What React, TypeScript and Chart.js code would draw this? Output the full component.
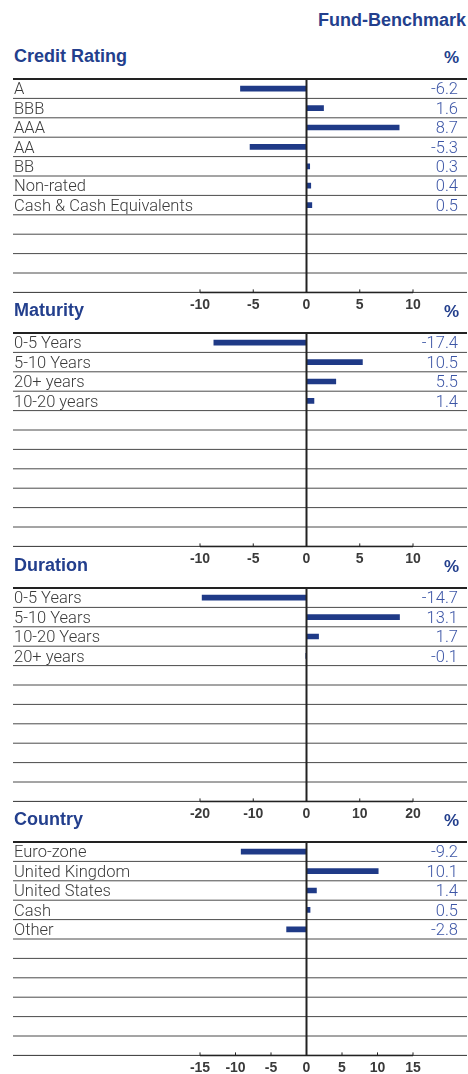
import React, { useEffect, useRef } from "react";
import { Chart, registerables } from "chart.js";

Chart.register(...registerables);

// ---------- data ----------
const headerLabel = "Fund-Benchmark";
const unitLabel = "%";

const creditTitle = "Credit Rating";
const creditCategories = ["A", "BBB", "AAA", "AA", "BB", "Non-rated", "Cash & Cash Equivalents"];
const creditValues = [-6.2, 1.6, 8.7, -5.3, 0.3, 0.4, 0.5];
const creditTickLabels = ["-10", "-5", "0", "5", "10"];

const maturityTitle = "Maturity";
const maturityCategories = ["0-5 Years", "5-10 Years", "20+ years", "10-20 years"];
const maturityValues = [-17.4, 10.5, 5.5, 1.4];
const maturityTickLabels = ["-10", "-5", "0", "5", "10"];

const durationTitle = "Duration";
const durationCategories = ["0-5 Years", "5-10 Years", "10-20 Years", "20+ years"];
const durationValues = [-14.7, 13.1, 1.7, -0.1];
const durationTickLabels = ["-20", "-10", "0", "10", "20"];

const countryTitle = "Country";
const countryCategories = ["Euro-zone", "United Kingdom", "United States", "Cash", "Other"];
const countryValues = [-9.2, 10.1, 1.4, 0.5, -2.8];
const countryTickLabels = ["-15", "-10", "-5", "0", "5", "10", "15"];

// ---------- layout / style ----------
const ROWS = 11;
const ROW_H = 19.4;
const PANEL_TOPS = [79, 333, 588, 842];
const PAD_TOP = 10;
const CANVAS_H = 246;
const X_AXIS_H = CANVAS_H - PAD_TOP - ROWS * ROW_H;
const LINE_LEFT = 13;
const LINE_RIGHT = 467;

const NAVY = "#1f3a87";
const TITLE_BLUE = "#233f8d";
const VALUE_BLUE = "#3d56a6";
const HEAD_FONT = "'Liberation Sans', Arial, sans-serif";
const LABEL_FONT = "Roboto, 'Liberation Sans', sans-serif";

type PanelCfg = {
  title: string;
  categories: string[];
  values: number[];
  tickLabels: string[];
  min: number;
  max: number;
  step: number;
  top: number;
};

const panels: PanelCfg[] = [
  { title: creditTitle, categories: creditCategories, values: creditValues, tickLabels: creditTickLabels, min: -10, max: 10, step: 5, top: PANEL_TOPS[0] },
  { title: maturityTitle, categories: maturityCategories, values: maturityValues, tickLabels: maturityTickLabels, min: -20, max: 20, step: 10, top: PANEL_TOPS[1] },
  { title: durationTitle, categories: durationCategories, values: durationValues, tickLabels: durationTickLabels, min: -15, max: 15, step: 7.5, top: PANEL_TOPS[2] },
  { title: countryTitle, categories: countryCategories, values: countryValues, tickLabels: countryTickLabels, min: -15, max: 15, step: 5, top: PANEL_TOPS[3] },
];

const decorPlugin = {
  id: "decor",
  beforeDatasetsDraw(chart: any) {
    const { ctx, chartArea, scales } = chart;
    const y = scales.y;
    const x = scales.x;
    const half = (y.getPixelForTick(1) - y.getPixelForTick(0)) / 2;
    const hline = (py: number, x0: number, x1: number) => {
      ctx.beginPath();
      ctx.moveTo(x0, py);
      ctx.lineTo(x1, py);
      ctx.stroke();
    };
    ctx.save();
    ctx.lineWidth = 1;
    ctx.strokeStyle = "#4a4a4a";
    for (let i = 0; i < y.ticks.length - 1; i++) {
      hline(y.getPixelForTick(i) + half, LINE_LEFT, LINE_RIGHT);
    }
    ctx.strokeStyle = "#333";
    hline(chartArea.bottom, LINE_LEFT, LINE_RIGHT);
    ctx.lineWidth = 1.5;
    ctx.strokeStyle = "#222";
    hline(chartArea.bottom, chartArea.left, chartArea.right);
    ctx.lineWidth = 2;
    hline(chartArea.top, LINE_LEFT, LINE_RIGHT);
    ctx.lineWidth = 1;
    for (let i = 0; i < x.ticks.length; i++) {
      const px = x.getPixelForTick(i);
      ctx.beginPath();
      ctx.moveTo(px, chartArea.bottom);
      ctx.lineTo(px, chartArea.bottom - 3);
      ctx.stroke();
    }
    ctx.restore();
  },
  afterDatasetsDraw(chart: any) {
    const { ctx, chartArea, scales } = chart;
    const px = scales.x.getPixelForValue(0);
    ctx.save();
    ctx.strokeStyle = "#222";
    ctx.lineWidth = 2;
    ctx.beginPath();
    ctx.moveTo(px, chartArea.top - 1);
    ctx.lineTo(px, chartArea.bottom);
    ctx.stroke();
    ctx.restore();
  },
};

function Panel({ cfg }: { cfg: PanelCfg }) {
  const ref = useRef<HTMLCanvasElement>(null);
  useEffect(() => {
    if (!ref.current) return;
    const labels: string[] = [];
    const data: (number | null)[] = [];
    const valueLabels: string[] = [];
    for (let i = 0; i < ROWS; i++) {
      labels.push(i < cfg.categories.length ? cfg.categories[i] : "");
      data.push(i < cfg.values.length ? cfg.values[i] : null);
      valueLabels.push(i < cfg.values.length ? cfg.values[i].toFixed(1) : "");
    }
    const chart = new Chart(ref.current, {
      type: "bar",
      data: {
        labels,
        datasets: [
          {
            data,
            backgroundColor: NAVY,
            borderWidth: 0,
            barThickness: 5,
            xAxisID: "x",
            yAxisID: "y",
          } as any,
        ],
      },
      options: {
        indexAxis: "y",
        responsive: false,
        animation: false,
        devicePixelRatio: 1,
        layout: { padding: { top: PAD_TOP, left: 14, right: 10, bottom: 0 } },
        plugins: {
          legend: { display: false },
          tooltip: { enabled: false },
          title: { display: false },
        },
        scales: {
          x: {
            type: "linear",
            position: "bottom",
            min: cfg.min,
            max: cfg.max,
            grid: { display: false, drawTicks: false },
            border: { display: false },
            ticks: {
              stepSize: cfg.step,
              autoSkip: false,
              maxRotation: 0,
              padding: 4,
              color: "#3a3a3a",
              font: { family: HEAD_FONT, size: 14, weight: "bold" },
              callback: (_v: any, i: number) => cfg.tickLabels[i] ?? "",
            },
            afterFit: (s: any) => {
              s.height = X_AXIS_H;
            },
          },
          y: {
            type: "category",
            position: "left",
            offset: true,
            grid: { display: false, drawTicks: false },
            border: { display: false },
            ticks: {
              autoSkip: false,
              crossAlign: "far",
              padding: 0,
              labelOffset: 1.5,
              color: "#3a3a3a",
              font: { family: LABEL_FONT, size: 16.5, weight: "300" },
            },
            afterFit: (s: any) => {
              s.width = 186;
            },
          },
          yv: {
            type: "category",
            position: "right",
            labels: valueLabels,
            offset: true,
            grid: { display: false, drawTicks: false },
            border: { display: false },
            ticks: {
              autoSkip: false,
              crossAlign: "far",
              padding: 0,
              labelOffset: 1.5,
              color: VALUE_BLUE,
              font: { family: LABEL_FONT, size: 16.5, weight: "300" },
            },
            afterFit: (s: any) => {
              s.width = 45;
            },
          },
        } as any,
      },
      plugins: [decorPlugin],
    });
    return () => chart.destroy();
  }, [cfg]);
  return (
    <canvas
      ref={ref}
      width={468}
      height={CANVAS_H}
      style={{ position: "absolute", left: 0, top: cfg.top - PAD_TOP, display: "block" }}
    />
  );
}

function Txt(props: {
  text: string;
  left?: number;
  right?: number;
  baseline: number;
  size: number;
  color: string;
}) {
  const { text, left, right, baseline, size, color } = props;
  const top = baseline - 0.8465 * size;
  return (
    <div
      style={{
        position: "absolute",
        top,
        left,
        right,
        fontFamily: HEAD_FONT,
        fontWeight: 700,
        fontSize: size,
        lineHeight: `${size}px`,
        color,
        whiteSpace: "nowrap",
      }}
    >
      {text}
    </div>
  );
}

export default function App() {
  return (
    <div
      style={{
        position: "absolute",
        left: 0,
        top: 0,
        width: 468,
        height: 1074,
        background: "#fff",
        overflow: "hidden",
      }}
    >
      <Txt text={headerLabel} right={2} baseline={26} size={18} color={TITLE_BLUE} />
      {panels.map((p) => (
        <React.Fragment key={p.title}>
          <Txt text={p.title} left={14} baseline={p.top - 16.5} size={18} color={TITLE_BLUE} />
          <Txt text={unitLabel} right={9} baseline={p.top - 15.5} size={17} color={TITLE_BLUE} />
          <Panel cfg={p} />
        </React.Fragment>
      ))}
    </div>
  );
}
